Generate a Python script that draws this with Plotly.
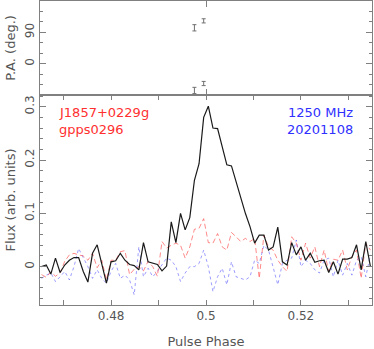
import numpy as np
import plotly.graph_objects as go

# pulse profile, 1024 bins across the period, bins 476..547 shown
bin_index = np.arange(476, 548)
phase = (bin_index + 0.5) / 1024

# total intensity (black solid)
flux_I = [0.0, 0.003, -0.014, 0.016, -0.011, 0.003, 0.012, 0.017, 0.017, -0.009,
          -0.029, 0.025, 0.041, 0.002, -0.031, 0.009, 0.011, 0.025, 0.012, 0.004,
          0.002, -0.006, 0.045, 0.009, 0.006, 0.004, -0.008, 0.001, 0.084, 0.045,
          0.100, 0.069, 0.092, 0.162, 0.193, 0.280, 0.301, 0.260, 0.259, 0.224,
          0.191, 0.189, 0.159, 0.127, 0.100, 0.075, 0.044, 0.059, 0.059, 0.031,
          0.037, 0.074, 0.009, 0.003, 0.045, 0.022, 0.037, 0.012, 0.025, 0.008,
          0.011, 0.012, -0.011, 0.009, -0.014, 0.014, 0.014, 0.017, 0.041, -0.006,
          0.047, 0.0]

# linear polarisation (red dashed)
flux_L = [-0.015, -0.02, -0.01, -0.018, -0.012, 0.01, 0.022, 0.025, 0.022, 0.02,
          0.012, 0.025, -0.002, 0.012, -0.025, 0.012, 0.012, 0.028, 0.03, -0.015,
          -0.005, 0.0, -0.008, 0.01, 0.0, -0.018, 0.047, 0.035, 0.04, 0.044,
          0.04, 0.016, 0.037, 0.07, 0.072, 0.09, 0.045, 0.044, 0.062, 0.037,
          0.031, 0.064, 0.056, 0.047, 0.053, 0.047, 0.053, -0.022, 0.059, 0.037,
          0.031, 0.012, 0.0, -0.009, 0.056, 0.044, 0.012, 0.044, 0.016, 0.037,
          0.0, 0.031, -0.009, 0.014, 0.012, 0.031, -0.006, 0.019, 0.031, -0.022,
          0.044, 0.031]

# circular polarisation (blue dotted)
flux_V = [-0.022, -0.016, -0.012, -0.028, -0.019, -0.009, -0.025, 0.0, 0.034, 0.016,
          0.0, -0.022, -0.006, -0.022, -0.031, -0.009, 0.006, -0.022, -0.016, -0.025,
          -0.053, 0.037, -0.019, -0.003, -0.019, -0.009, 0.003, 0.016, 0.012, 0.0,
          -0.028, -0.012, 0.0, 0.0, 0.006, 0.031, 0.0, -0.047, -0.019, -0.003,
          -0.034, 0.009, -0.019, -0.022, -0.025, -0.019, 0.012, 0.006, 0.04, 0.031,
          0.0, -0.034, 0.006, 0.012, 0.016, 0.05, 0.0, 0.012, 0.006, -0.006,
          -0.012, 0.012, 0.016, -0.019, 0.012, -0.016, 0.006, -0.016, 0.012, 0.019,
          -0.019, 0.022]

# position angle points (shown at PA and PA-180)
pa_phase = [(509 + 0.5) / 1024, (511 + 0.5) / 1024]
pa_deg = [103, 123]
pa_err = [9, 6]

axis_grey = '#808080'
text_grey = '#555555'
font_family = 'DejaVu Sans'

fig = go.Figure()

fig.add_trace(go.Scatter(x=phase, y=flux_V, mode='lines',
                         line=dict(color='rgba(60,60,255,0.5)', width=1, dash='dot'),
                         xaxis='x', yaxis='y'))
fig.add_trace(go.Scatter(x=phase, y=flux_L, mode='lines',
                         line=dict(color='rgba(255,60,60,0.6)', width=1, dash='5px,3px'),
                         xaxis='x', yaxis='y'))
fig.add_trace(go.Scatter(x=phase, y=flux_I, mode='lines',
                         line=dict(color='#1a1a1a', width=1.2),
                         xaxis='x', yaxis='y'))

pa_all = pa_deg + [p - 180 for p in pa_deg]
fig.add_trace(go.Scatter(x=pa_phase + pa_phase, y=pa_all, mode='markers',
                         marker=dict(size=1, color='rgba(0,0,0,0)'),
                         error_y=dict(type='data', array=pa_err + pa_err,
                                      color='#707070', thickness=1, width=2),
                         xaxis='x2', yaxis='y2'))

split = 210 / 304
common = dict(showline=True, linecolor=axis_grey, linewidth=1, mirror='ticks',
              ticks='inside', tickcolor=axis_grey, showgrid=False, zeroline=False,
              automargin=False)

fig.update_layout(
    width=374, height=349,
    margin=dict(l=40, r=2, t=1, b=44),
    plot_bgcolor='white', paper_bgcolor='white',
    showlegend=False,
    font=dict(family=font_family, size=12, color=text_grey),
    xaxis=dict(domain=[0, 1], range=[0.465, 0.535], anchor='y',
               tickvals=[0.48, 0.5, 0.52], ticktext=['0.48', '0.5', '0.52'], ticklen=5,
               minor=dict(dtick=0.01, tick0=0, ticklen=5, ticks='inside', tickcolor=axis_grey),
               title=dict(text='Pulse Phase', standoff=15, font=dict(size=13)),
               tickfont=dict(size=12), **common),
    yaxis=dict(domain=[0, split], range=[-0.072, 0.322], anchor='x',
               ticklen=6, tickangle=-90,
               tickvals=[0, 0.1, 0.2, 0.3], ticktext=['0', '0.1', '0.2', '0.3'],
               minor=dict(dtick=0.02, tick0=0, ticklen=3, ticks='inside', tickcolor=axis_grey),
               title=dict(text='Flux (arb. units)', standoff=4, font=dict(size=13)),
               tickfont=dict(size=12), **common),
    xaxis2=dict(domain=[0, 1], range=[0.465, 0.535], anchor='y2', matches='x',
                tickvals=[0.5], ticklen=6, showticklabels=False, **common),
    yaxis2=dict(domain=[split, 1], range=[-90, 180], anchor='x2',
                tickvals=[-90, 0, 90, 180], ticktext=['', '0', '90', ''], ticklen=6,
                tickangle=-90,
                minor=dict(dtick=30, tick0=0, ticklen=3, ticks='inside', tickcolor=axis_grey),
                title=dict(text='P.A. (deg.)', standoff=4, font=dict(size=13)),
                tickfont=dict(size=12), **common),
)

fig.add_annotation(x=0.051, y=0.632, xref='paper', yref='paper', text='J1857+0229g',
                   showarrow=False, xanchor='left', yanchor='middle',
                   font=dict(color='#ff3030', size=13, family=font_family))
fig.add_annotation(x=0.051, y=0.576, xref='paper', yref='paper', text='gpps0296',
                   showarrow=False, xanchor='left', yanchor='middle',
                   font=dict(color='#ff3030', size=13, family=font_family))
fig.add_annotation(x=0.95, y=0.632, xref='paper', yref='paper', text='1250 MHz',
                   showarrow=False, xanchor='right', yanchor='middle',
                   font=dict(color='#3030ff', size=13, family=font_family))
fig.add_annotation(x=0.95, y=0.576, xref='paper', yref='paper', text='20201108',
                   showarrow=False, xanchor='right', yanchor='middle',
                   font=dict(color='#3030ff', size=13, family=font_family))

# the page body has an 8px default margin; drop it so the figure fills the window
fig.write_html("out.html", config={'displayModeBar': False},
               post_script="document.body.style.margin='0';document.body.style.overflow='hidden';")
